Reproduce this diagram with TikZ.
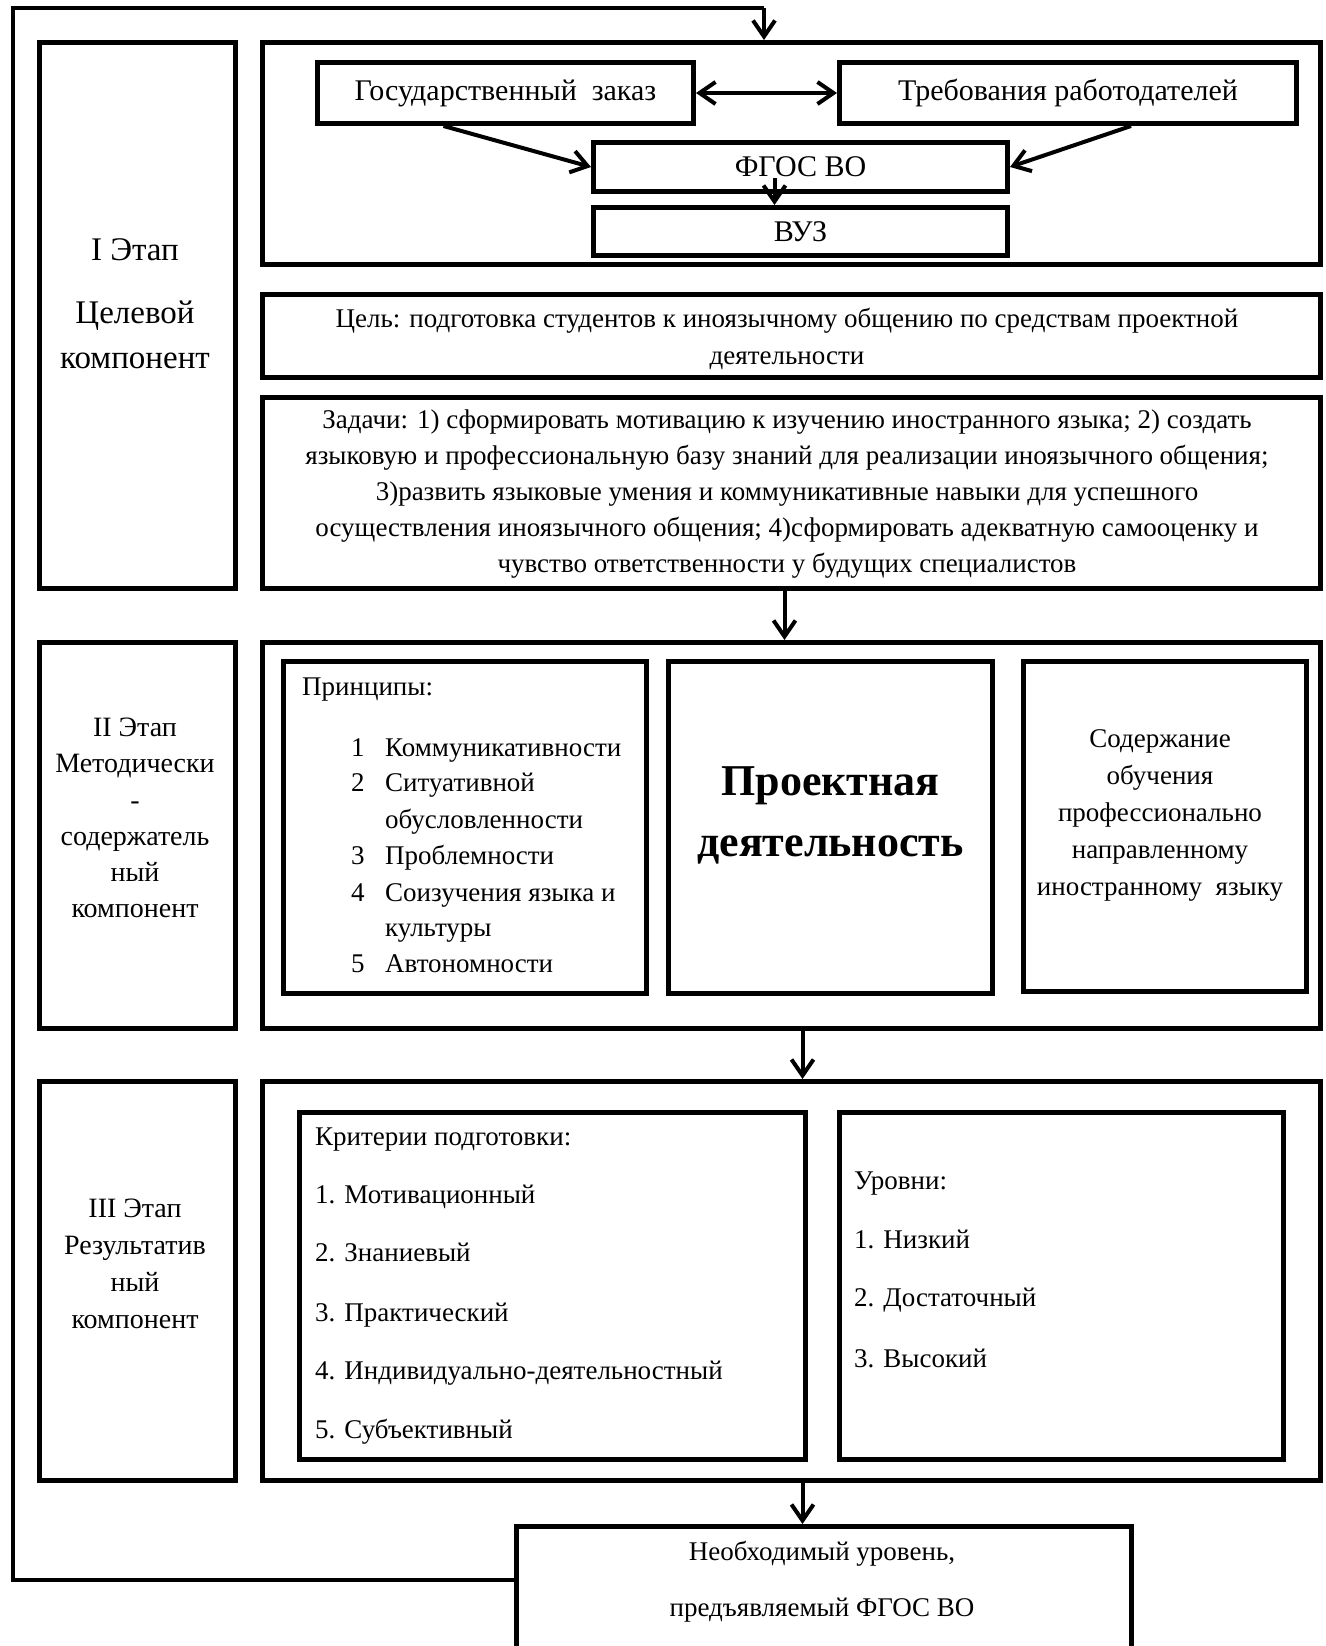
\documentclass[tikz,border=0pt]{standalone}
\usepackage{fontspec}
\setmainfont{Liberation Serif}
\usetikzlibrary{arrows.meta}
\newcommand\fz[2]{\fontsize{#1}{#2}\selectfont}
\tikzset{
  frame/.style={draw, line width=5pt, inner sep=0pt, anchor=north west},
  conn/.style={line width=4pt, -{Straight Barb[length=16pt,width=22pt,line width=4pt]}},
  loopline/.style={line width=4pt},
  lbl/.style={inner sep=0pt, align=center},
  lst/.style={inner sep=0pt, anchor=base west},
}
\newcommand\bx[5]{\node[frame, minimum width={(#4-#2)*1pt}, minimum height={(#5-#3)*1pt}] (#1) at (#2,#3) {};}
\begin{document}
\begin{tikzpicture}[x=1pt,y=-1pt]
\useasboundingbox (0,0) rectangle (1325,1646);
\clip (0,0) rectangle (1325,1646);
% ---- Stage I
\bx{s1l}{37}{40}{233}{586}
\bx{top1}{260}{40}{1318}{262}
\bx{gz}{315}{60}{691}{121}
\bx{tr}{837}{60}{1294}{121}
\bx{fgos}{591}{140}{1005}{189}
\bx{vuz}{591}{205}{1005}{253}
\bx{goal}{260}{292}{1318}{375}
\bx{zad}{260}{395}{1318}{586}
% ---- Stage II
\bx{s2l}{37}{640}{233}{1026}
\bx{s2o}{260}{640}{1318}{1026}
\bx{pr}{281}{659}{644}{991}
\bx{pd}{666}{659}{990}{991}
\bx{sod}{1021}{659}{1304}{989}
% ---- Stage III
\bx{s3l}{37}{1079}{233}{1478}
\bx{s3o}{260}{1079}{1318}{1478}
\bx{kr}{297}{1110}{803}{1457}
\bx{ur}{837}{1110}{1281}{1457}
\bx{fin}{514}{1524}{1129}{1700}

% ---- texts
\node[lbl, font=\fz{33}{45}] (s1t) at (135,304) {I Этап\\[18pt]Целевой\\компонент};
\node[lbl, font=\fz{28}{36.2}] (s2t) at (135,818) {II Этап\\Методически\\-\\содержатель\\ный\\компонент};
\node[lbl, font=\fz{28}{37}] (s3t) at (135,1264) {III Этап\\Результатив\\ный\\компонент};

\node[lbl, font=\fz{30}{36}] (gzt) at (gz.center) {Государственный\ \ заказ};
\node[lbl, font=\fz{30}{36}] (trt) at (tr.center) {Требования работодателей};
\node[lbl, font=\fz{30}{36}] (fgt) at (fgos.center) {ФГОС ВО};
\node[lbl, font=\fz{30}{36}] (vzt) at (vuz.center) {ВУЗ};

\node[lbl, font=\fz{27}{37}] (goalt) at (787,339) {Цель: подготовка студентов к иноязычному общению по средствам проектной\\деятельности};
\node[lbl, font=\fz{27}{36}] (zadt) at (787,494) {Задачи: 1) сформировать мотивацию к изучению иностранного языка; 2) создать\\языковую и профессиональную базу знаний для реализации иноязычного общения;\\3)развить языковые умения и коммуникативные навыки для успешного\\осуществления иноязычного общения; 4)сформировать адекватную самооценку и\\чувство ответственности у будущих специалистов};

\node[lst, font=\fz{27}{36}] (prh) at (302,695) {Принципы:};
\foreach \t/\y [count=\i] in {{\makebox[34pt][l]{1}Коммуникативности}/756,
  {\makebox[34pt][l]{2}Ситуативной}/791,
  {\hspace*{34pt}обусловленности}/828,
  {\makebox[34pt][l]{3}Проблемности}/864,
  {\makebox[34pt][l]{4}Соизучения языка и}/901,
  {\hspace*{34pt}культуры}/936,
  {\makebox[34pt][l]{5}Автономности}/972}
  \node[lst, font=\fz{27}{36}] (pl\i) at (351,\y) {\t};

\node[lbl, font=\fz{44}{61}\bfseries] (pdt) at (pd.center |- 0,815) {Проектная\\деятельность};
\node[lbl, font=\fz{27}{37}] (sodt) at (1160,815) {Содержание\\обучения\\профессионально\\направленному\\иностранному\ \ языку};

\foreach \t/\y [count=\i] in {{Критерии подготовки:}/1145,
  {1. Мотивационный}/1203,
  {2. Знаниевый}/1261,
  {3. Практический}/1321,
  {4. Индивидуально-деятельностный}/1379,
  {5. Субъективный}/1438}
  \node[lst, font=\fz{27}{36}] (kl\i) at (315,\y) {\t};
\foreach \t/\y [count=\i] in {{Уровни:}/1189,
  {1. Низкий}/1248,
  {2. Достаточный}/1306,
  {3. Высокий}/1367}
  \node[lst, font=\fz{27}{36}] (ul\i) at (854,\y) {\t};

\node[lbl, font=\fz{27}{56}] (fint) at (822,1582) {Необходимый уровень,\\предъявляемый ФГОС ВО};

% ---- connectors
\draw[line width=4pt, {Straight Barb[length=16pt,width=22pt,line width=4pt]}-{Straight Barb[length=16pt,width=22pt,line width=4pt]}] (gz.east) -- (tr.west);
\draw[conn] ([xshift=-62pt]gz.south) -- (fgos.west);
\draw[conn] ([xshift=63pt]tr.south) -- (fgos.east);
\draw[conn] ([xshift=-26pt,yshift=16pt]fgos.south) -- ([xshift=-26pt]vuz.north);
\draw[conn] ([xshift=-7pt]zad.south) -- ([xshift=-7pt]s2o.north);
\draw[conn] ([xshift=11pt]s2o.south) -- ([xshift=11pt]s3o.north);
\draw[conn] ([xshift=11pt]s3o.south) coordinate (a3) -- (fin.north -| a3);
\coordinate (lb) at (13,1580);
\coordinate (lt) at (13,8);
\coordinate (lx) at (764,8);
\draw[loopline] (fin.west |- lb) -- (lb) -- (lt) -- (lx);
\draw[conn] (lx) -- (top1.north -| lx);
\end{tikzpicture}
\end{document}
